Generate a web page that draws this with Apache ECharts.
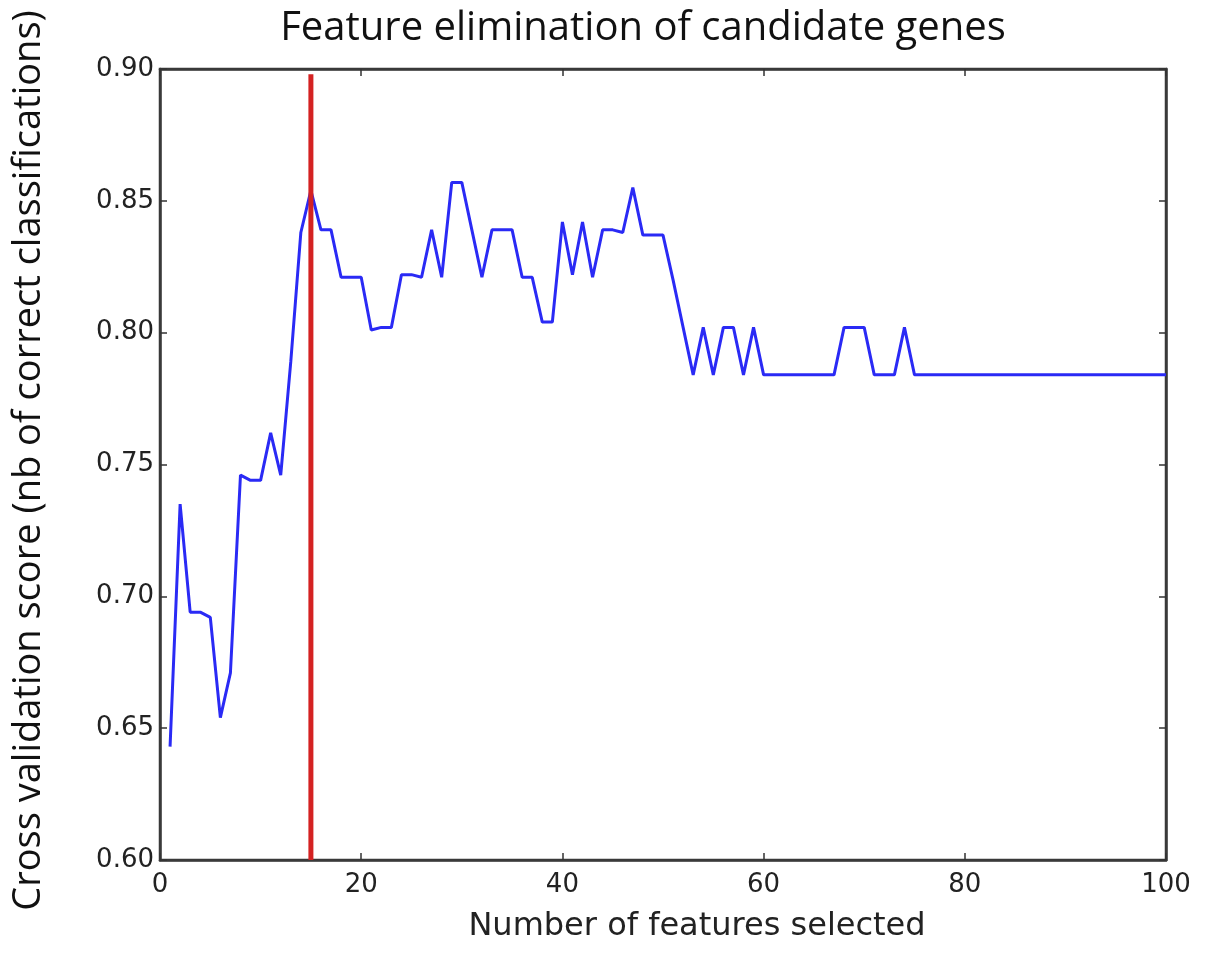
<!DOCTYPE html>
<html>
<head>
<meta charset="utf-8">
<script src="https://cdn.jsdelivr.net/npm/echarts@6/dist/echarts.min.js"></script>
<style>
html,body{margin:0;padding:0;background:#fff;}
#chart{width:1205px;height:953px;}
</style>
</head>
<body>
<div id="chart"></div>
<script>
const featureCounts = [];
for (let i = 1; i <= 100; i++) featureCounts.push(i);
const scores = [
  0.643, 0.735, 0.694, 0.694, 0.692, 0.654, 0.671, 0.746, 0.744, 0.744,
  0.762, 0.746, 0.789, 0.838, 0.854, 0.839, 0.839, 0.821, 0.821, 0.821,
  0.801, 0.802, 0.802, 0.822, 0.822, 0.821, 0.839, 0.821, 0.857, 0.857,
  0.839, 0.821, 0.839, 0.839, 0.839, 0.821, 0.821, 0.804, 0.804, 0.842,
  0.822, 0.842, 0.821, 0.839, 0.839, 0.838, 0.855, 0.837, 0.837, 0.837,
  0.820, 0.802, 0.784, 0.802, 0.784, 0.802, 0.802, 0.784, 0.802, 0.784,
  0.784, 0.784, 0.784, 0.784, 0.784, 0.784, 0.784, 0.802, 0.802, 0.802,
  0.784, 0.784, 0.784, 0.802, 0.784, 0.784, 0.784, 0.784, 0.784, 0.784,
  0.784, 0.784, 0.784, 0.784, 0.784, 0.784, 0.784, 0.784, 0.784, 0.784,
  0.784, 0.784, 0.784, 0.784, 0.784, 0.784, 0.784, 0.784, 0.784, 0.784
];
const selectedFeatures = 15;
const selectedLineRange = [0.60, 0.898];
const xTicks = [0, 20, 40, 60, 80, 100];
const yTicks = [0.60, 0.65, 0.70, 0.75, 0.80, 0.85, 0.90];

const titleText = 'Feature elimination of candidate genes';
const xLabel = 'Number of features selected';
const yLabel = 'Cross validation score (nb of correct classifications)';

const FONT = '"DejaVu Sans", sans-serif';
const HFONT = '"Open Sans", Lato, sans-serif';
const chart = echarts.init(document.getElementById('chart'), null, {renderer: 'canvas'});

const tickStyle = {show: true, inside: true, length: 7, lineStyle: {color: '#333', width: 1.5}};
const option = {
  animation: false,
  backgroundColor: '#fff',
  title: {
    text: titleText, left: 638, top: 4, textAlign: 'center',
    textStyle: {fontFamily: HFONT, fontSize: 40, fontWeight: 'normal', color: '#111'}
  },
  grid: {left: 160, right: 39, top: 69, bottom: 93, show: true, borderColor: '#3a3a3a', borderWidth: 2.5, backgroundColor: 'transparent'},
  xAxis: [{
    type: 'value', min: 0, max: 100, interval: 20, position: 'bottom',
    axisLine: {show: true, onZero: false, lineStyle: {color: '#3a3a3a', width: 2.5}},
    axisTick: tickStyle, splitLine: {show: false},
    axisLabel: {fontFamily: FONT, fontSize: 26, color: '#222', margin: 12},
    name: xLabel, nameLocation: 'middle', nameGap: 51,
    nameTextStyle: {fontFamily: FONT, fontSize: 32, color: '#222', padding: [0, 0, 0, 68]}
  }, {
    type: 'value', min: 0, max: 100, interval: 20, position: 'top',
    axisLine: {show: true, onZero: false, lineStyle: {color: '#3a3a3a', width: 2.5}},
    axisTick: tickStyle, axisLabel: {show: false}, splitLine: {show: false}
  }],
  yAxis: [{
    type: 'value', min: 0.60, max: 0.90, interval: 0.05, position: 'left',
    axisLine: {show: true, onZero: false, lineStyle: {color: '#3a3a3a', width: 2.5}},
    axisTick: tickStyle, splitLine: {show: false},
    axisLabel: {fontFamily: FONT, fontSize: 26, color: '#222', margin: 6, formatter: v => v.toFixed(2)},
    name: yLabel, nameLocation: 'middle', nameGap: 112, nameRotate: 90,
    nameTextStyle: {fontFamily: HFONT, fontSize: 38, color: '#111', padding: [0, 0, 0, 8]}
  }, {
    type: 'value', min: 0.60, max: 0.90, interval: 0.05, position: 'right',
    axisLine: {show: true, onZero: false, lineStyle: {color: '#3a3a3a', width: 2.5}},
    axisTick: tickStyle, axisLabel: {show: false}, splitLine: {show: false}
  }],
  series: [{
    type: 'line', xAxisIndex: 0, yAxisIndex: 0,
    data: featureCounts.map((x, i) => [x, scores[i]]),
    showSymbol: false, symbol: 'none',
    lineStyle: {color: '#2a2af5', width: 3},
    z: 3
  }, {
    type: 'line', xAxisIndex: 0, yAxisIndex: 0,
    data: selectedLineRange.map(v => [selectedFeatures, v]),
    showSymbol: false, symbol: 'none',
    lineStyle: {color: '#d42222', width: 5},
    z: 4
  }]
};
chart.setOption(option);
</script>
</body>
</html>
